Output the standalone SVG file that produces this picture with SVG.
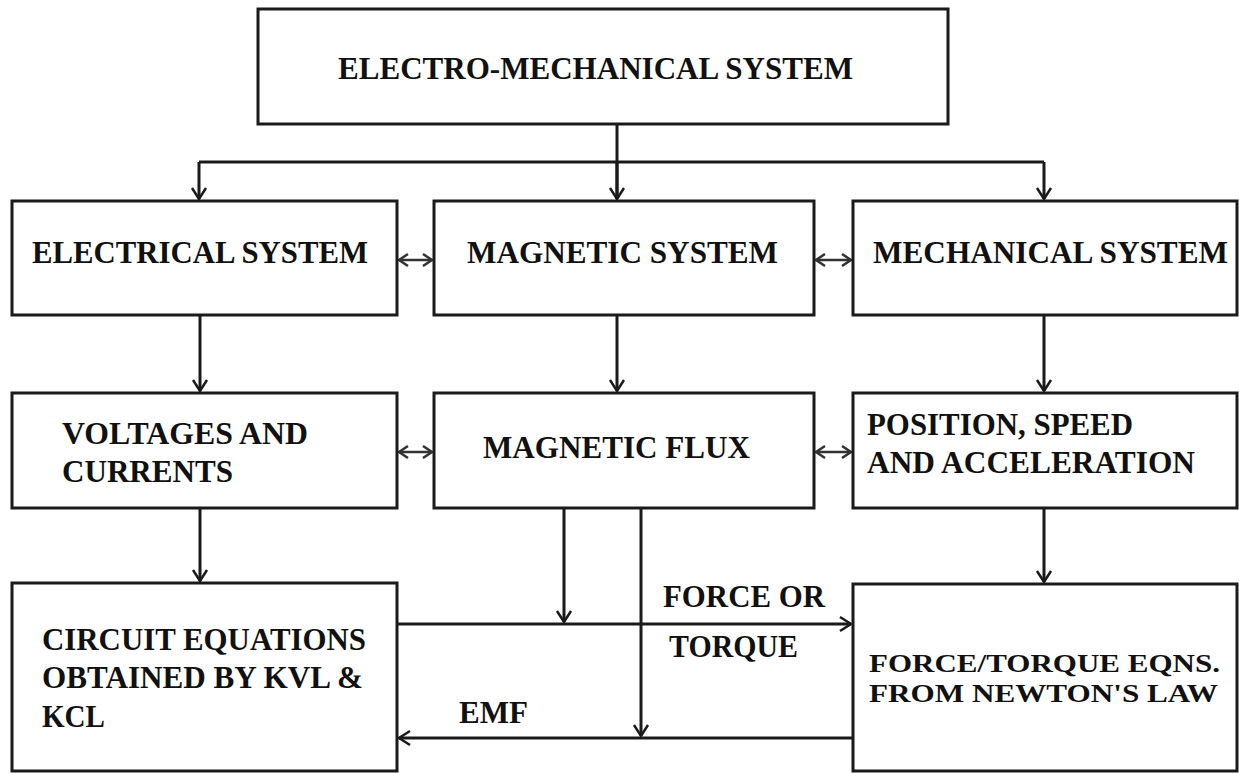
<svg xmlns="http://www.w3.org/2000/svg" width="1239" height="773" viewBox="0 0 1239 773">
<style>
.box{fill:#fff;stroke:#1a1a1a;stroke-width:3}
.t{font-weight:bold;font-size:31px;fill:#111}
.s{font-size:26px}
.c{fill:none;stroke:#1a1a1a;stroke-width:3}
.d{fill:none;stroke:#333;stroke-width:2.5}
</style>
<defs>
<marker id="ah" markerUnits="userSpaceOnUse" markerWidth="16" markerHeight="18" refX="13" refY="9" orient="auto-start-reverse">
<path d="M2,2 L13,9 L2,16" fill="none" stroke="#1a1a1a" stroke-width="2.5"/>
</marker>
<marker id="dh" markerUnits="userSpaceOnUse" markerWidth="14" markerHeight="16" refX="11" refY="8" orient="auto-start-reverse">
<path d="M2,2 L11,8 L2,14" fill="none" stroke="#333" stroke-width="2.5"/>
</marker>
</defs>
<rect width="1239" height="773" fill="#fff"/>
<g id="connectors">
<path class="c" d="M617,124 V199"/>
<path class="c" d="M199,162 H1044"/>
<path class="c" d="M199,162 V199" marker-end="url(#ah)"/>
<path class="c" d="M1044,162 V199" marker-end="url(#ah)"/>
<path class="c" d="M617,162 V199" marker-end="url(#ah)"/>
<path class="d" d="M399,260 H432" marker-start="url(#dh)" marker-end="url(#dh)"/>
<path class="d" d="M816,260 H851" marker-start="url(#dh)" marker-end="url(#dh)"/>
<path class="c" d="M200,315 V391" marker-end="url(#ah)"/>
<path class="c" d="M617,315 V391" marker-end="url(#ah)"/>
<path class="c" d="M1044,315 V391" marker-end="url(#ah)"/>
<path class="d" d="M399,452 H432" marker-start="url(#dh)" marker-end="url(#dh)"/>
<path class="d" d="M816,452 H851" marker-start="url(#dh)" marker-end="url(#dh)"/>
<path class="c" d="M200,508 V581" marker-end="url(#ah)"/>
<path class="c" d="M1044,508 V582" marker-end="url(#ah)"/>
<path class="c" d="M564,508 V622" marker-end="url(#ah)"/>
<path class="c" d="M397,624 H851" marker-end="url(#ah)"/>
<path class="c" d="M641,508 V736" marker-end="url(#ah)"/>
<path class="c" d="M853,738 H399" marker-end="url(#ah)"/>
</g>
<g font-family="Liberation Serif, DejaVu Serif, Noto Serif, Times New Roman, serif">
<g id="n-electromech"><rect class="box" x="258" y="9" width="690" height="115"/><text class="t" x="338" y="79" textLength="515" lengthAdjust="spacingAndGlyphs">ELECTRO-MECHANICAL SYSTEM</text></g>
<g id="n-electrical"><rect class="box" x="12" y="201" width="385" height="114"/><text class="t" x="32" y="263" textLength="336" lengthAdjust="spacingAndGlyphs">ELECTRICAL SYSTEM</text></g>
<g id="n-magnetic"><rect class="box" x="434" y="201" width="380" height="114"/><text class="t" x="467" y="263" textLength="311" lengthAdjust="spacingAndGlyphs">MAGNETIC SYSTEM</text></g>
<g id="n-mechanical"><rect class="box" x="853" y="201" width="384" height="114"/><text class="t" x="873" y="263" textLength="355" lengthAdjust="spacingAndGlyphs">MECHANICAL SYSTEM</text></g>
<g id="n-voltages"><rect class="box" x="12" y="393" width="385" height="115"/><text class="t" x="62" y="444" textLength="246" lengthAdjust="spacingAndGlyphs">VOLTAGES AND</text><text class="t" x="62" y="482" textLength="171" lengthAdjust="spacingAndGlyphs">CURRENTS</text></g>
<g id="n-flux"><rect class="box" x="434" y="393" width="380" height="115"/><text class="t" x="483" y="458" textLength="267" lengthAdjust="spacingAndGlyphs">MAGNETIC FLUX</text></g>
<g id="n-position"><rect class="box" x="853" y="393" width="384" height="115"/><text class="t" x="867" y="435" textLength="266" lengthAdjust="spacingAndGlyphs">POSITION, SPEED</text><text class="t" x="867" y="473" textLength="328" lengthAdjust="spacingAndGlyphs">AND ACCELERATION</text></g>
<g id="n-circuit"><rect class="box" x="12" y="583" width="385" height="188"/><text class="t" x="42" y="650" textLength="324" lengthAdjust="spacingAndGlyphs">CIRCUIT EQUATIONS</text><text class="t" x="42" y="688" textLength="321" lengthAdjust="spacingAndGlyphs">OBTAINED BY KVL &amp;</text><text class="t" x="42" y="727" textLength="63" lengthAdjust="spacingAndGlyphs">KCL</text></g>
<g id="n-force"><rect class="box" x="853" y="584" width="384" height="187"/><text class="t s" x="869" y="672" textLength="351" lengthAdjust="spacingAndGlyphs">FORCE/TORQUE EQNS.</text><text class="t s" x="869" y="702" textLength="349" lengthAdjust="spacingAndGlyphs">FROM NEWTON'S LAW</text></g>
<g id="labels">
<text class="t" x="663" y="607" textLength="162" lengthAdjust="spacingAndGlyphs">FORCE OR</text>
<text class="t" x="669" y="657" textLength="129" lengthAdjust="spacingAndGlyphs">TORQUE</text>
<text class="t" x="459" y="723" textLength="69" lengthAdjust="spacingAndGlyphs">EMF</text>
</g>
</g>
</svg>
